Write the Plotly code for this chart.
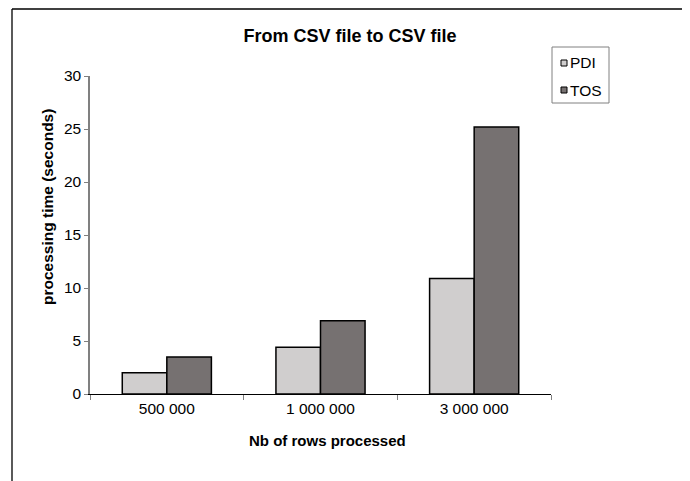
import plotly.graph_objects as go

categories = ["500 000", "1 000 000", "3 000 000"]
series_names = ["PDI", "TOS"]
pdi_values = [2.0, 4.4, 10.9]
tos_values = [3.5, 6.9, 25.2]
y_ticks = [0, 5, 10, 15, 20, 25, 30]

OFF = 8  # page body margin
W, H = 690 - OFF, 481 - OFF
ML, MT = 90 - OFF, 76 - OFF
PW, PH = 461, 318
MR, MB = W - ML - PW, H - MT - PH

def px(x):
    return (x - OFF - ML) / PW

def py(y):
    return (H - MB - (y - OFF)) / PH

colors = ["#D0CECE", "#767171"]
FONT = "Liberation Sans, Arial, sans-serif"

fig = go.Figure()
for name, vals, col in zip(series_names, [pdi_values, tos_values], colors):
    fig.add_trace(go.Bar(
        x=categories, y=vals, name=name,
        marker=dict(color=col, line=dict(color="#000000", width=1.5)),
        showlegend=False,
    ))

frame = dict(color="#000000", width=1.3)
TOPY = 9
shapes = [
    dict(type="line", xref="paper", yref="paper", x0=px(12), x1=px(12), y0=py(TOPY), y1=py(481), line=frame),
    dict(type="line", xref="paper", yref="paper", x0=px(686), x1=px(686), y0=py(TOPY), y1=py(481), line=frame),
    dict(type="line", xref="paper", yref="paper", x0=px(12), x1=px(686), y0=py(TOPY), y1=py(TOPY), line=frame),
    dict(type="rect", xref="paper", yref="paper",
         x0=px(552), x1=px(609), y0=py(103), y1=py(47),
         line=dict(color="#808080", width=1), fillcolor="#FFFFFF"),
]
annotations = []
leg_y = [63, 90]
for name, col, yy in zip(series_names, colors, leg_y):
    shapes.append(dict(type="rect", xref="paper", yref="paper",
                       x0=px(561), x1=px(567), y0=py(yy + 3), y1=py(yy - 3),
                       line=dict(color="#000000", width=1), fillcolor=col))
    annotations.append(dict(xref="paper", yref="paper", x=px(568), y=py(yy),
                            xanchor="left", yanchor="middle", showarrow=False,
                            text=name, font=dict(family=FONT, size=15.5, color="#000000")))

annotations.append(dict(xref="paper", yref="paper", x=px(47), y=py(207),
                        xanchor="center", yanchor="middle", showarrow=False, textangle=-90,
                        text="<b>processing time (seconds)</b>",
                        font=dict(family=FONT, size=15.5, color="#000000")))
annotations.append(dict(xref="paper", yref="paper", x=px(327), y=py(440),
                        xanchor="center", yanchor="middle", showarrow=False,
                        text="<b>Nb of rows processed</b>",
                        font=dict(family=FONT, size=15, color="#000000")))

fig.update_layout(
    width=W, height=H,
    margin=dict(l=ML, r=MR, t=MT, b=MB),
    paper_bgcolor="#FFFFFF", plot_bgcolor="#FFFFFF",
    barmode="group", bargap=0.42, bargroupgap=0,
    title=dict(text="<b>From CSV file to CSV file</b>", x=(350 - OFF) / W, xanchor="center",
               y=1 - (36 - OFF) / H, yanchor="middle", xref="container", yref="container",
               font=dict(family=FONT, size=18, color="#000000")),
    shapes=shapes, annotations=annotations,
    font=dict(family=FONT, size=15, color="#000000"),
)
fig.update_xaxes(
    type="category", tickson="boundaries", ticks="outside", ticklen=5,
    tickcolor="#808080", tickwidth=1,
    showline=True, linecolor="#000000", linewidth=1.2,
    showgrid=False, zeroline=False,
    tickfont=dict(family=FONT, size=15.5, color="#000000"),
)
fig.update_yaxes(
    range=[0, 30], tickvals=y_ticks, ticks="outside", ticklen=4,
    tickcolor="#808080", tickwidth=1,
    showline=True, linecolor="#808080", linewidth=1.5,
    showgrid=False, zeroline=False,
    tickfont=dict(family=FONT, size=15.5, color="#000000"),
)

fig.write_html("out.html")
